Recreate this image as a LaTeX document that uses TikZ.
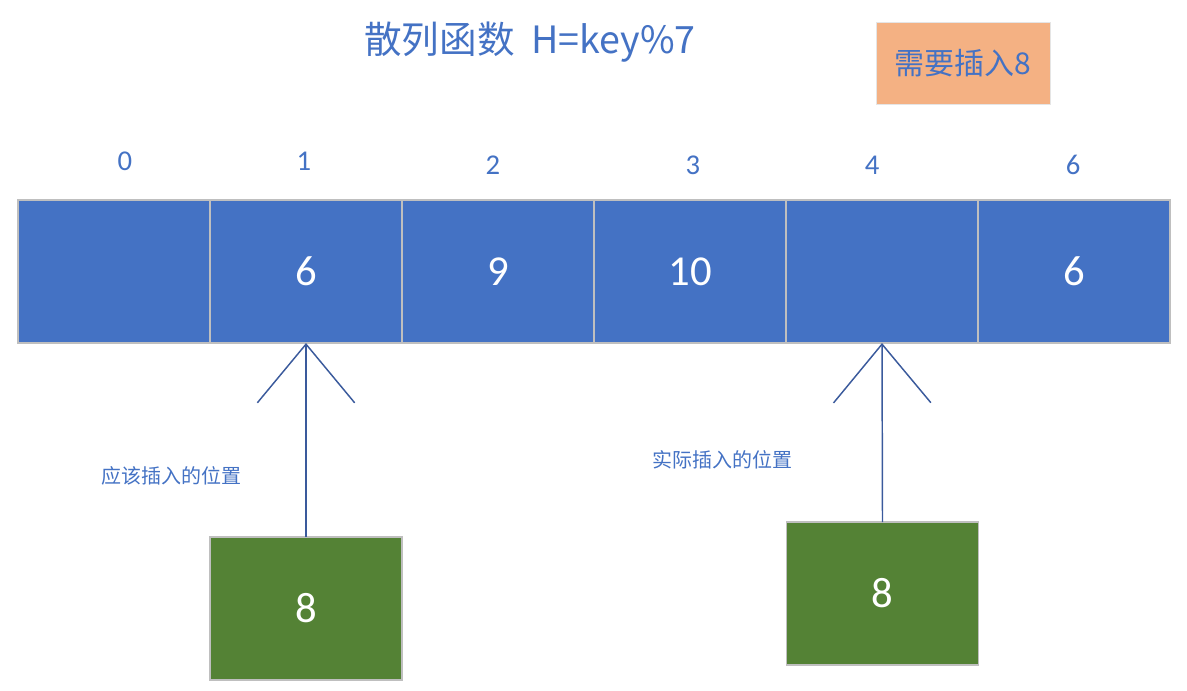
\documentclass[tikz,border=0pt]{standalone}
\usepackage{fontspec}
\setmainfont{Carlito}
\newfontfamily\cjk{Noto Sans CJK SC}
\usetikzlibrary{positioning,arrows.meta}

\definecolor{cellblue}{HTML}{4472C4}
\definecolor{linkblue}{HTML}{3A5A9C}
\definecolor{keygreen}{HTML}{548235}
\definecolor{noteorange}{HTML}{F4B183}
\definecolor{edgegray}{HTML}{BFBFBF}

\tikzset{
  slot/.style={draw=edgegray, line width=0.8pt, fill=cellblue, text=white,
    minimum width=144pt, minimum height=107.25pt, inner sep=0pt, outer sep=0pt,
    font=\fontsize{32}{36}\selectfont},
  keybox/.style={slot, fill=keygreen},
  index/.style={text=cellblue, font=\fontsize{21.5}{24}\selectfont},
  hint/.style={text=cellblue, font=\cjk\fontsize{15}{18}\selectfont},
  probe/.style={draw=linkblue, line width=1.1pt,
    -{Straight Barb[length=44pt, width=73pt, line width=1.1pt]}},
}

\begin{document}
\begin{tikzpicture}[x=0.75pt, y=-0.75pt]
 \useasboundingbox (0,0) rectangle (1187,691);
 % title and note
 \node[text=cellblue, font=\cjk\fontsize{28.2}{32}\selectfont] (title) at (530,42) {散列函数\ \ H=key\%7};
 \node[fill=noteorange, draw=edgegray!40, line width=0.4pt, text=cellblue,
   minimum width=130.5pt, minimum height=61.5pt, font=\cjk\fontsize{22.5}{26}\selectfont]
   (note) at (963,63) {需要插入8};
 % hash table
 \node[slot] (s0) at (114,271.5) {};
 \node[slot, right=0pt of s0] (s1) {6};
 \node[slot, right=0pt of s1] (s2) {9};
 \node[slot, right=0pt of s2] (s3) {10};
 \node[slot, right=0pt of s3] (s4) {};
 \node[slot, right=0pt of s4] (s5) {6};
 % indices
 \node[index] (i0) at (125,161) {0};
 \node[index] (i1) at (304,161) {1};
 \node[index] (i2) at (493,165) {2};
 \node[index] (i3) at (693,165) {3};
 \node[index] (i4) at (872,165) {4};
 \node[index] (i5) at (1073,165) {6};
 % keys to insert
 \node[keybox] (want) at (306,608.5) {8};
 \node[keybox] (got) at (882.5,593.5) {8};
 \node[hint] (wantlbl) at (171,476) {应该插入的位置};
 \node[hint] (gotlbl) at (722,460) {实际插入的位置};
 \draw[probe] (want.north) -- (s1.south);
 \draw[probe] (got.north) -- (s4.south);
\end{tikzpicture}
\end{document}
